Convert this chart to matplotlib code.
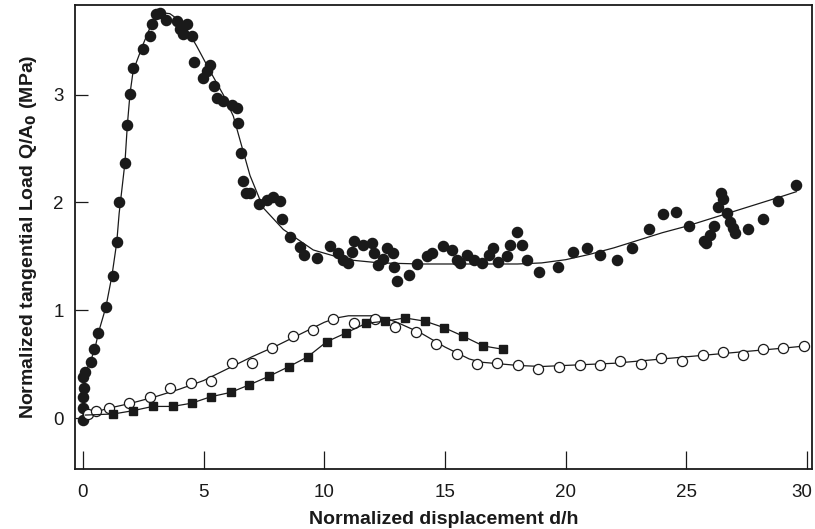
import matplotlib
matplotlib.use('Agg')
from matplotlib import pyplot as plt
from matplotlib import transforms
import numpy as np

plt.rcParams['font.family'] = ['Liberation Sans', 'DejaVu Sans']

# filled circles (measured points)
fc_x = [0.01, 0.01, 0.01, 0.04, 0.01, 0.08, 0.32, 0.46, 0.63, 0.95, 1.23, 1.40, 1.48,
        1.74, 1.84, 1.95, 2.08, 2.50, 2.78, 2.87, 3.03, 3.19, 3.43, 3.88, 4.02, 4.32,
        4.16, 4.50, 4.60, 5.26, 5.13, 4.99, 5.43, 5.54, 5.81, 6.16, 6.37, 6.44, 6.53,
        6.64, 6.75, 6.92, 7.31, 7.61, 7.89, 8.16, 8.23, 8.58, 8.99, 9.16, 9.69, 10.24,
        10.58, 10.79, 10.99, 11.14, 11.23, 11.62, 11.96, 12.06, 12.24, 12.45, 12.59,
        12.83, 12.89, 13.00, 13.52, 13.83, 14.24, 14.45, 14.93, 15.28, 15.49, 15.62,
        15.90, 16.18, 16.52, 16.80, 17.00, 17.21, 17.56, 17.70, 17.97, 18.18, 18.41,
        18.91, 19.66, 20.32, 20.90, 21.43, 22.12, 22.74, 23.43, 24.02, 24.55, 25.09,
        25.71, 25.82, 25.98, 26.15, 26.29, 26.43, 26.51, 26.68, 26.81, 26.93, 27.02,
        27.57, 28.17, 28.81, 29.55]
fc_y = [-0.02, 0.10, 0.20, 0.28, 0.38, 0.43, 0.52, 0.64, 0.79, 1.03, 1.32, 1.63, 2.00,
        2.37, 2.72, 3.01, 3.25, 3.42, 3.54, 3.65, 3.75, 3.76, 3.69, 3.68, 3.61, 3.65,
        3.56, 3.54, 3.30, 3.27, 3.22, 3.15, 3.08, 2.97, 2.94, 2.90, 2.88, 2.74, 2.46,
        2.20, 2.09, 2.09, 1.99, 2.02, 2.05, 2.01, 1.85, 1.68, 1.59, 1.51, 1.49, 1.60,
        1.53, 1.47, 1.44, 1.54, 1.64, 1.61, 1.62, 1.53, 1.42, 1.48, 1.58,
        1.53, 1.40, 1.27, 1.33, 1.43, 1.50, 1.53, 1.60, 1.56, 1.47, 1.44,
        1.51, 1.47, 1.44, 1.51, 1.58, 1.45, 1.50, 1.61, 1.73, 1.61, 1.47,
        1.36, 1.40, 1.54, 1.58, 1.51, 1.47, 1.58, 1.75, 1.89, 1.91, 1.78,
        1.64, 1.62, 1.70, 1.78, 1.96, 2.09, 2.03, 1.90, 1.82, 1.76, 1.72,
        1.75, 1.85, 2.01, 2.16]

# fitted curve through filled circles
fc_fit_x = [0.0, 0.02, 0.08, 0.3, 0.5, 0.65, 0.95, 1.2, 1.4, 1.5, 1.74, 1.84, 1.95,
            2.08, 2.5, 2.85, 3.2, 3.6, 4.16, 4.71, 5.26, 5.81, 6.23, 6.58, 6.92, 7.47,
            8.3, 9.54, 10.93, 12.3, 14.0, 16.0, 18.0, 19.0, 20.0, 21.0, 22.0, 23.0,
            24.0, 25.0, 26.0, 27.0, 28.0, 29.0, 29.55]
fc_fit_y = [0.0, 0.2, 0.42, 0.52, 0.65, 0.8, 1.03, 1.32, 1.63, 1.9, 2.37, 2.72, 3.01,
            3.22, 3.47, 3.66, 3.76, 3.75, 3.66, 3.45, 3.22, 3.0, 2.8, 2.52, 2.25, 1.95,
            1.75, 1.56, 1.47, 1.44, 1.43, 1.43, 1.43, 1.44, 1.47, 1.52, 1.58, 1.65,
            1.72, 1.78, 1.85, 1.92, 1.99, 2.06, 2.10]

# open circles
oc_x = [0.22, 0.54, 1.09, 1.91, 2.78, 3.61, 4.48, 5.30, 6.16, 6.99, 7.85, 8.69, 9.55,
        10.37, 11.23, 12.10, 12.93, 13.80, 14.63, 15.49, 16.34, 17.17, 18.01, 18.87,
        19.73, 20.57, 21.43, 22.25, 23.11, 23.95, 24.81, 25.67, 26.51, 27.34, 28.19,
        29.02, 29.88]
oc_y = [0.04, 0.07, 0.10, 0.14, 0.20, 0.28, 0.33, 0.35, 0.51, 0.51, 0.65, 0.76, 0.82,
        0.92, 0.88, 0.92, 0.85, 0.80, 0.69, 0.60, 0.50, 0.51, 0.49, 0.46,
        0.48, 0.49, 0.49, 0.53, 0.50, 0.56, 0.53, 0.59, 0.61, 0.59, 0.64,
        0.65, 0.67]
oc_fit_x = [0.1, 1.0, 2.0, 3.0, 4.0, 5.0, 6.0, 7.0, 8.0, 9.0, 10.0, 10.5, 11.0, 12.0,
            12.5, 13.0, 14.0, 15.0, 16.0, 16.5, 17.0, 18.0, 19.0, 20.0, 21.0, 22.0,
            23.0, 24.0, 25.0, 26.0, 27.0, 28.0, 29.0, 29.9]
oc_fit_y = [0.03, 0.09, 0.14, 0.20, 0.27, 0.35, 0.46, 0.57, 0.67, 0.78, 0.89, 0.93,
            0.95, 0.95, 0.93, 0.89, 0.79, 0.66, 0.55, 0.52, 0.51, 0.49, 0.48, 0.49,
            0.50, 0.51, 0.53, 0.55, 0.57, 0.59, 0.61, 0.63, 0.65, 0.67]

# filled squares
sq_x = [0.1, 1.26, 2.06, 2.89, 3.72, 4.50, 5.30, 6.12, 6.89, 7.71, 8.54, 9.31, 10.10,
        10.89, 11.72, 12.52, 13.34, 14.17, 14.96, 15.76, 16.59, 17.39]
sq_y = [0.03, 0.04, 0.07, 0.11, 0.11, 0.14, 0.20, 0.24, 0.31, 0.39, 0.48, 0.57, 0.71,
        0.79, 0.88, 0.90, 0.93, 0.90, 0.84, 0.76, 0.67, 0.64]

ink = '#1a1a1a'
fig = plt.figure(figsize=(8.15, 5.29), dpi=100)
ax = fig.add_axes([0.092, 0.1134, 0.9043, 0.8771])

ax.plot(fc_fit_x, fc_fit_y, color=ink, lw=0.9)
ax.plot(fc_x, fc_y, 'o', color=ink, ms=7.3, mec=ink)
ax.plot(oc_fit_x, oc_fit_y, color=ink, lw=0.9)
ax.plot(oc_x, oc_y, 'o', mfc='white', mec=ink, ms=7.3, mew=0.9)
ax.plot(sq_x[1:], sq_y[1:], 's', color=ink, ms=5.5)
ax.plot(sq_x, sq_y, '-', color=ink, lw=0.9)

ax.set_xlim(-0.33, 30.2)
ax.set_ylim(-0.47, 3.83)
ax.set_xticks([0, 5, 10, 15, 20, 25, 30])
ax.set_yticks([0, 1, 2, 3])
ax.tick_params(axis='x', direction='in', length=13, width=0.9, labelsize=13.5, pad=11, colors=ink)
ax.tick_params(axis='y', direction='in', length=9, width=0.9, labelsize=13.5, pad=8, colors=ink)
for s in ax.spines.values():
    s.set_linewidth(1.3)
    s.set_color(ink)

# nudge the last x label so it stays inside the canvas
last = ax.get_xticklabels()[-1]
last.set_transform(last.get_transform() + transforms.ScaledTranslation(-5 / 100, 0, fig.dpi_scale_trans))

ax.set_xlabel('Normalized displacement d/h', fontsize=14, fontweight='bold', labelpad=7, color=ink)
ax.set_ylabel('Normalized tangential Load Q/A$_\\mathbf{0}$ (MPa)', fontsize=14,
              fontweight='bold', labelpad=10, color=ink)

fig.savefig('out.png', dpi=100)
